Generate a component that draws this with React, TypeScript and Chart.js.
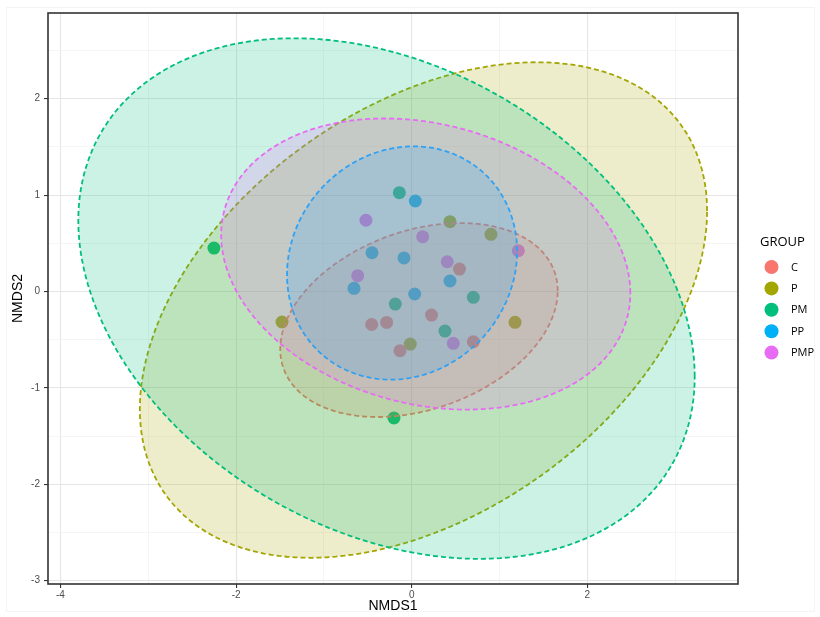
import React, { useEffect, useRef } from 'react';
import { Chart, registerables } from 'chart.js';

Chart.register(...registerables);

// ---- data ----
const groups = ['C', 'P', 'PM', 'PP', 'PMP'];
const groupColors = ['#F8766D', '#A3A500', '#00BF7D', '#00B0F6', '#E76BF3'];

const cX = [0.544, 0.226, -0.456, -0.285, 0.702, -0.133];
const cY = [0.233, -0.244, -0.342, -0.321, -0.521, -0.614];
const pX = [0.436, 0.903, -1.477, 1.177, -0.016];
const pY = [0.724, 0.593, -0.316, -0.32, -0.545];
const pmX = [-0.141, 0.702, -0.187, 0.379, -2.252, -0.202];
const pmY = [1.025, -0.06, -0.13, -0.41, 0.451, -1.312];
const ppX = [0.041, -0.452, -0.088, 0.436, -0.657, 0.034];
const ppY = [0.939, 0.402, 0.348, 0.109, 0.033, -0.026];
const pmpX = [-0.521, 0.125, 1.214, 0.405, -0.615, 0.474];
const pmpY = [0.739, 0.568, 0.423, 0.309, 0.164, -0.537];

const groupXs = [cX, pX, pmX, ppX, pmpX];
const groupYs = [cY, pY, pmY, ppY, pmpY];

// 95% ellipses (centre, half extents along NMDS1 / NMDS2, correlation)
const ellipseCX = [0.083, 0.134, -0.287, -0.11, 0.16];
const ellipseCY = [-0.296, -0.192, -0.073, 0.296, 0.285];
const ellipseHalfW = [1.58, 3.23, 3.51, 1.31, 2.33];
const ellipseHalfH = [1.006, 2.57, 2.7, 1.21, 1.51];
const ellipseCorr = [0.3, 0.4, -0.3, 0.1, -0.2];

const xMajorTicks = [-4, -2, 0, 2];
const xMinorTicks = [-3, -1, 1, 3];
const yMajorTicks = [-3, -2, -1, 0, 1, 2];
const yMinorTicks = [-2.5, -1.5, -0.5, 0.5, 1.5, 2.5];
const xRange = [-4.142, 3.716];
const yRange = [-3.034, 2.889];

const xTitle = 'NMDS1';
const yTitle = 'NMDS2';
const legendTitle = 'GROUP';

function rgba(hex: string, a: number) {
  const n = parseInt(hex.slice(1), 16);
  return `rgba(${(n >> 16) & 255},${(n >> 8) & 255},${n & 255},${a})`;
}

const isMajor = (list: number[], v: number) => list.some((m) => Math.abs(m - v) < 1e-9);

const ellipsePlugin = {
  id: 'ellipses',
  beforeDraw(chart: any) {
    const { ctx } = chart;
    ctx.save();
    ctx.fillStyle = '#fff';
    ctx.fillRect(0, 0, chart.width, chart.height);
    ctx.strokeStyle = '#F4F4F4';
    ctx.lineWidth = 1;
    ctx.strokeRect(6.5, 7.5, 808, 604);
    ctx.restore();
  },
  afterDatasetsDraw(chart: any) {
    const { ctx, chartArea } = chart;
    const xs = chart.scales.x;
    const ys = chart.scales.y;
    ctx.save();
    ctx.beginPath();
    ctx.rect(chartArea.left, chartArea.top, chartArea.width, chartArea.height);
    ctx.clip();
    groups.forEach((_, i) => {
      const n = 200;
      const r = ellipseCorr[i];
      const s = Math.sqrt(1 - r * r);
      ctx.beginPath();
      for (let k = 0; k <= n; k++) {
        const t = (2 * Math.PI * k) / n;
        const dx = ellipseHalfW[i] * Math.cos(t);
        const dy = ellipseHalfH[i] * (r * Math.cos(t) + s * Math.sin(t));
        const px = xs.getPixelForValue(ellipseCX[i] + dx);
        const py = ys.getPixelForValue(ellipseCY[i] + dy);
        if (k === 0) ctx.moveTo(px, py);
        else ctx.lineTo(px, py);
      }
      ctx.closePath();
      ctx.fillStyle = rgba(groupColors[i], 0.2);
      ctx.fill();
      ctx.setLineDash([5, 3]);
      ctx.lineWidth = 1.8;
      ctx.strokeStyle = groupColors[i];
      ctx.stroke();
    });
    ctx.restore();
  },
  afterDraw(chart: any) {
    const { ctx, chartArea } = chart;
    ctx.save();
    // panel border
    ctx.setLineDash([]);
    ctx.strokeStyle = '#333333';
    ctx.lineWidth = 1.6;
    ctx.strokeRect(chartArea.left, chartArea.top, chartArea.right - chartArea.left, chartArea.bottom - chartArea.top);

    // axis titles
    ctx.fillStyle = '#000';
    ctx.font = '14px "Liberation Sans", Arial, sans-serif';
    ctx.textAlign = 'center';
    ctx.textBaseline = 'middle';
    ctx.fillText(xTitle, (chartArea.left + chartArea.right) / 2, 606);
    ctx.save();
    ctx.translate(18, (chartArea.top + chartArea.bottom) / 2);
    ctx.rotate(-Math.PI / 2);
    ctx.fillText(yTitle, 0, 0);
    ctx.restore();

    // legend
    ctx.textAlign = 'left';
    ctx.font = '13px "Open Sans", sans-serif';
    ctx.fillText(legendTitle, 760, 242);
    ctx.font = '11px "Open Sans", sans-serif';
    groups.forEach((g, i) => {
      const cy = 267 + i * 21.4;
      ctx.beginPath();
      ctx.arc(771.5, cy, 7, 0, Math.PI * 2);
      ctx.fillStyle = groupColors[i];
      ctx.fill();
      ctx.fillStyle = '#000';
      ctx.fillText(g, 791, cy + 0.5);
    });
    ctx.restore();
  },
};

export default function App() {
  const ref = useRef<HTMLCanvasElement>(null);

  useEffect(() => {
    if (!ref.current) return;
    const datasets = groups.map((g, i) => ({
      label: g,
      data: groupXs[i].map((x, k) => ({ x, y: groupYs[i][k] })),
      backgroundColor: groupColors[i],
      borderWidth: 0,
      pointRadius: 6.5,
      pointHoverRadius: 6.5,
    }));
    const xAll = [...xMajorTicks, ...xMinorTicks].sort((a, b) => a - b);
    const yAll = [...yMajorTicks, ...yMinorTicks].sort((a, b) => a - b);
    const chart = new Chart(ref.current, {
      type: 'scatter',
      data: { datasets },
      options: {
        animation: false,
        responsive: false,
        devicePixelRatio: 1,
        layout: { padding: { top: 13, right: 82, left: 0, bottom: 0 } },
        plugins: { legend: { display: false }, tooltip: { enabled: false } },
        scales: {
          x: {
            type: 'linear',
            min: xRange[0],
            max: xRange[1],
            afterBuildTicks: (scale: any) => {
              scale.ticks = xAll.map((v) => ({ value: v }));
            },
            afterFit: (scale: any) => {
              scale.height = 33;
            },
            border: { display: false },
            grid: {
              color: (c: any) => (isMajor(xMajorTicks, c.tick?.value) ? '#E6E6E6' : '#F0F0F0'),
              lineWidth: (c: any) => (isMajor(xMajorTicks, c.tick?.value) ? 1.1 : 0.7),
              tickColor: (c: any) => (isMajor(xMajorTicks, c.tick?.value) ? '#333333' : 'rgba(0,0,0,0)'),
              tickLength: 4,
              tickWidth: 1.1,
            },
            ticks: {
              autoSkip: false,
              maxRotation: 0,
              padding: 1,
              color: '#4D4D4D',
              font: { size: 10, family: '"Liberation Sans", Arial, sans-serif' },
              callback: (v: any) => (isMajor(xMajorTicks, Number(v)) ? String(v) : ''),
            },
          },
          y: {
            type: 'linear',
            min: yRange[0],
            max: yRange[1],
            afterBuildTicks: (scale: any) => {
              scale.ticks = yAll.map((v) => ({ value: v }));
            },
            afterFit: (scale: any) => {
              scale.width = 48;
            },
            border: { display: false },
            grid: {
              color: (c: any) => (isMajor(yMajorTicks, c.tick?.value) ? '#E6E6E6' : '#F0F0F0'),
              lineWidth: (c: any) => (isMajor(yMajorTicks, c.tick?.value) ? 1.1 : 0.7),
              tickColor: (c: any) => (isMajor(yMajorTicks, c.tick?.value) ? '#333333' : 'rgba(0,0,0,0)'),
              tickLength: 4,
              tickWidth: 1.1,
            },
            ticks: {
              autoSkip: false,
              padding: 4,
              color: '#4D4D4D',
              font: { size: 10, family: '"Liberation Sans", Arial, sans-serif' },
              callback: (v: any) => (isMajor(yMajorTicks, Number(v)) ? String(v) : ''),
            },
          },
        },
      },
      plugins: [ellipsePlugin],
    } as any);
    return () => chart.destroy();
  }, []);

  return (
    <div style={{ position: 'fixed', left: 0, top: 0, width: 820, height: 617, background: '#fff' }}>
      <canvas ref={ref} width={820} height={617} style={{ display: 'block', width: 820, height: 617 }} />
    </div>
  );
}
